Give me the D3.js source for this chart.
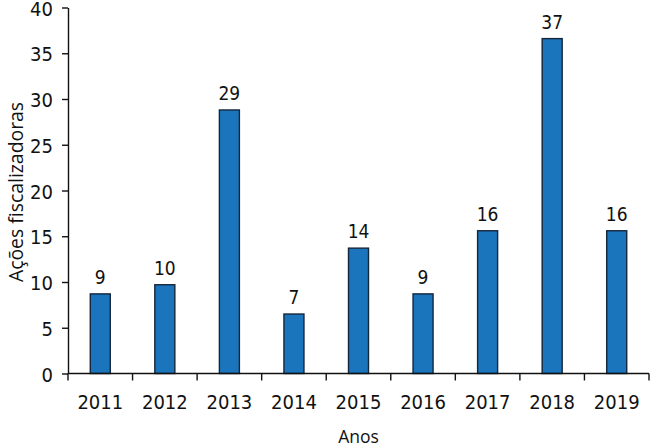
<!DOCTYPE html>
<html>
<head>
<meta charset="utf-8">
<script src="https://cdn.jsdelivr.net/npm/d3@7"></script>
<style>
  html, body { margin: 0; padding: 0; background: #fff; }
  svg { display: block; }
</style>
</head>
<body>
<svg id="chart" width="650" height="447"></svg>
<script>
const years = ["2011", "2012", "2013", "2014", "2015", "2016", "2017", "2018", "2019"];
const values = [8.7, 9.7, 28.8, 6.5, 13.7, 8.7, 15.6, 36.6, 15.6];
const valueLabels = ["9", "10", "29", "7", "14", "9", "16", "37", "16"];
const yTicks = [0, 5, 10, 15, 20, 25, 30, 35, 40];
const xTitle = "Anos";
const yTitle = "Ações fiscalizadoras";

(function () {
const svg = d3.select("#chart");
const mLeft = 68, mRight = 649, mTop = 7.5, mBottom = 373.5;
const numFont = "'Liberation Sans Narrow', 'DejaVu Sans Condensed', sans-serif";
const txtFont = "'Open Sans', 'Noto Sans', sans-serif";

const x = d3.scaleBand().domain(years).range([mLeft, mRight]).paddingInner(0.69).paddingOuter(0.345);
const y = d3.scaleLinear().domain([0, 40]).range([mBottom, mTop]);

// bars
svg.append("g").selectAll("rect").data(years).join("rect")
  .attr("x", d => x(d))
  .attr("y", (d, i) => y(values[i]))
  .attr("width", x.bandwidth())
  .attr("height", (d, i) => y(0) - y(values[i]))
  .attr("fill", "#1b75bc")
  .attr("stroke", "#14263b")
  .attr("stroke-width", 1.4);

// value labels
svg.append("g").selectAll("text").data(years).join("text")
  .attr("x", d => x(d) + x.bandwidth() / 2)
  .attr("y", (d, i) => y(values[i]) - 10)
  .attr("text-anchor", "middle")
  .attr("font-family", numFont)
  .attr("font-size", 19)
  .attr("fill", "#111")
  .text((d, i) => valueLabels[i]);

// y axis
const yAxis = svg.append("g")
  .attr("transform", `translate(${mLeft},0)`)
  .call(d3.axisLeft(y).tickValues(yTicks).tickSize(6).tickPadding(9).tickSizeOuter(0));
yAxis.select(".domain").attr("stroke", "#111").attr("stroke-width", 1.4);
yAxis.selectAll(".tick line").attr("stroke", "#111").attr("stroke-width", 1.4);
yAxis.selectAll(".tick text")
  .attr("dy", "0.38em")
  .attr("font-family", numFont).attr("font-size", 20).attr("fill", "#111");

// x axis
const xg = svg.append("g");
xg.append("line")
  .attr("x1", mLeft).attr("x2", mRight).attr("y1", y(0)).attr("y2", y(0))
  .attr("stroke", "#111").attr("stroke-width", 1.4);
const step = x.step();
const boundaries = years.map(d => x(d) - x.paddingInner() * step / 2).concat([mRight]);
xg.selectAll("line.tk").data(boundaries).join("line")
  .attr("class", "tk")
  .attr("x1", d => d).attr("x2", d => d)
  .attr("y1", y(0)).attr("y2", y(0) + 7)
  .attr("stroke", "#111").attr("stroke-width", 1.4);
xg.selectAll("text").data(years).join("text")
  .attr("x", d => x(d) + x.bandwidth() / 2)
  .attr("y", 409)
  .attr("text-anchor", "middle")
  .attr("font-family", numFont)
  .attr("font-size", 20)
  .attr("fill", "#111")
  .text(d => d);

// axis titles
svg.append("text")
  .attr("x", (mLeft + mRight) / 2)
  .attr("y", 443)
  .attr("text-anchor", "middle")
  .attr("font-family", txtFont)
  .attr("font-size", 17.5)
  .attr("fill", "#111")
  .text(xTitle);

svg.append("text")
  .attr("transform", `translate(23,192) rotate(-90)`)
  .attr("text-anchor", "middle")
  .attr("font-family", txtFont)
  .attr("font-size", 19.4)
  .attr("fill", "#111")
  .text(yTitle);
})();
</script>
</body>
</html>
